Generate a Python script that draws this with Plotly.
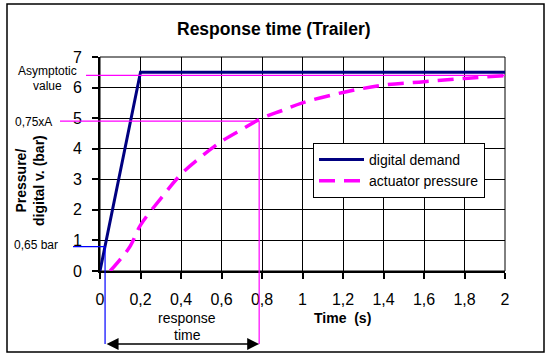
import plotly.graph_objects as go

# ---- data ----
demand_t = [0, 0.2, 2.0]
demand_v = [0, 6.5, 6.5]

act_t = [0.05, 0.1, 0.15, 0.2, 0.3, 0.4, 0.5, 0.6, 0.7, 0.8, 0.9, 1.0, 1.2, 1.4, 1.6, 1.8, 2.0]
act_p = [0.0, 0.38, 0.82, 1.5, 2.37, 3.16, 3.74, 4.24, 4.63, 5.0, 5.25, 5.5, 5.84, 6.08, 6.19, 6.3, 6.39]

x_ticks = [0, 0.2, 0.4, 0.6, 0.8, 1.0, 1.2, 1.4, 1.6, 1.8, 2.0]
x_ticktext = ["0", "0,2", "0,4", "0,6", "0,8", "1", "1,2", "1,4", "1,6", "1,8", "2"]
y_ticks = [0, 1, 2, 3, 4, 5, 6, 7]
y_ticktext = ["0", "1", "2", "3", "4", "5", "6", "7"]

asymptote = 6.4
p75 = 4.9
t75 = 0.786
p065 = 0.8
t065 = 0.025

XMAX, YMAX = 2.0, 7.0
W, H = 550, 359
L, R, T, B = 100, 45, 57, 88
PW, PH = W - L - R, H - T - B

def px(x):
    return (x - L) / PW

def py(y):
    return (H - B - y) / PH

def dx(v):
    return v / XMAX

def dy(v):
    return v / YMAX

FONT = "Arial, Liberation Sans, sans-serif"
MAG = "#FF00FF"

fig = go.Figure()
fig.add_trace(go.Scatter(x=demand_t, y=demand_v, mode="lines", name="digital demand",
                         line=dict(color="#000080", width=3)))
fig.add_trace(go.Scatter(x=act_t, y=act_p, mode="lines", name="actuator pressure",
                         line=dict(color=MAG, width=3.5, dash="16px,9px", shape="spline")))

shapes = [
    # outer border
    dict(type="rect", xref="paper", yref="paper", x0=px(7), x1=px(544), y0=py(352), y1=py(4),
         line=dict(color="black", width=1.5)),
    # plot frame (top/right)
    dict(type="rect", xref="paper", yref="paper", x0=0, x1=1, y0=0, y1=1,
         line=dict(color="black", width=1), layer="below"),
    # asymptote line
    dict(type="line", xref="paper", yref="paper", x0=px(86), x1=1, y0=dy(asymptote), y1=dy(asymptote),
         line=dict(color=MAG, width=1.2)),
    # 0.75A horizontal
    dict(type="line", xref="paper", yref="paper", x0=px(60), x1=dx(t75), y0=dy(p75), y1=dy(p75),
         line=dict(color=MAG, width=1.2)),
    # 0.75A vertical
    dict(type="line", xref="paper", yref="paper", x0=dx(t75), x1=dx(t75), y0=dy(p75), y1=py(344),
         line=dict(color=MAG, width=1.2)),
    # 0.65 bar horizontal
    dict(type="line", xref="paper", yref="paper", x0=px(73), x1=dx(t065), y0=dy(p065), y1=dy(p065),
         line=dict(color="#0000FF", width=1.2)),
    # 0.65 bar vertical
    dict(type="line", xref="paper", yref="paper", x0=dx(t065), x1=dx(t065), y0=dy(p065), y1=py(344),
         line=dict(color="#0000FF", width=1.2)),
]

small = dict(family=FONT, size=12, color="black")
annotations = [
    dict(xref="x", yref="paper", x=t75, y=py(344), ax=t065, ay=0, axref="x", ayref="pixel",
         text="", showarrow=True, arrowhead=2, arrowside="end+start", arrowsize=1.6,
         arrowwidth=1.5, arrowcolor="black"),
    dict(xref="paper", yref="paper", x=px(48), y=py(71), text="Asymptotic", showarrow=False,
         font=small, xanchor="center", yanchor="middle"),
    dict(xref="paper", yref="paper", x=px(48), y=py(86), text="value", showarrow=False,
         font=small, xanchor="center", yanchor="middle"),
    dict(xref="paper", yref="paper", x=px(33), y=py(122), text="0,75xA", showarrow=False,
         font=small, xanchor="center", yanchor="middle"),
    dict(xref="paper", yref="paper", x=px(36.5), y=py(245), text="0,65 bar", showarrow=False,
         font=small, xanchor="center", yanchor="middle"),
    dict(xref="paper", yref="paper", x=px(187), y=py(318), text="response", showarrow=False,
         font=dict(family=FONT, size=14, color="black"), xanchor="center", yanchor="middle"),
    dict(xref="paper", yref="paper", x=px(187), y=py(335), text="time", showarrow=False,
         font=dict(family=FONT, size=14, color="black"), xanchor="center", yanchor="middle"),
    dict(xref="paper", yref="paper", x=px(342), y=py(318), text="<b>Time\u00a0 (s)</b>", showarrow=False,
         font=dict(family=FONT, size=14, color="black"), xanchor="center", yanchor="middle"),
    dict(xref="paper", yref="paper", x=px(30), y=py(181), text="<b>Pressure/<br>digital v. (bar)</b>",
         showarrow=False, textangle=-90, font=dict(family=FONT, size=14, color="black"),
         xanchor="center", yanchor="middle"),
    dict(xref="paper", yref="paper", x=px(274), y=py(29), text="<b>Response time (Trailer)</b>",
         showarrow=False, font=dict(family=FONT, size=17.5, color="black"),
         xanchor="center", yanchor="middle"),
]

fig.update_layout(
    width=W, height=H,
    margin=dict(l=L, r=R, t=T, b=B),
    paper_bgcolor="white", plot_bgcolor="white",
    font=dict(family=FONT, color="black"),
    shapes=shapes,
    annotations=annotations,
    showlegend=True,
    legend=dict(x=px(313), y=py(143), xanchor="left", yanchor="top",
                bgcolor="white", bordercolor="black", borderwidth=1,
                font=dict(family=FONT, size=14, color="black"), itemwidth=45,
                tracegroupgap=0),
)
fig.update_xaxes(range=[0, XMAX], tickvals=x_ticks, ticktext=x_ticktext,
                 showgrid=True, gridcolor="#000000", gridwidth=1, zeroline=False,
                 showline=True, linecolor="black", linewidth=2,
                 ticks="outside", ticklen=6, tickwidth=2, tickcolor="black",
                 tickfont=dict(family=FONT, size=16, color="black"), ticklabelstandoff=7)
fig.update_yaxes(range=[0, YMAX], tickvals=y_ticks, ticktext=y_ticktext,
                 showgrid=True, gridcolor="#000000", gridwidth=1, zeroline=False,
                 showline=True, linecolor="black", linewidth=2,
                 ticks="outside", ticklen=6, tickwidth=2, tickcolor="black",
                 tickfont=dict(family=FONT, size=16, color="black"), ticklabelstandoff=7)

fig.write_html("out.html")
